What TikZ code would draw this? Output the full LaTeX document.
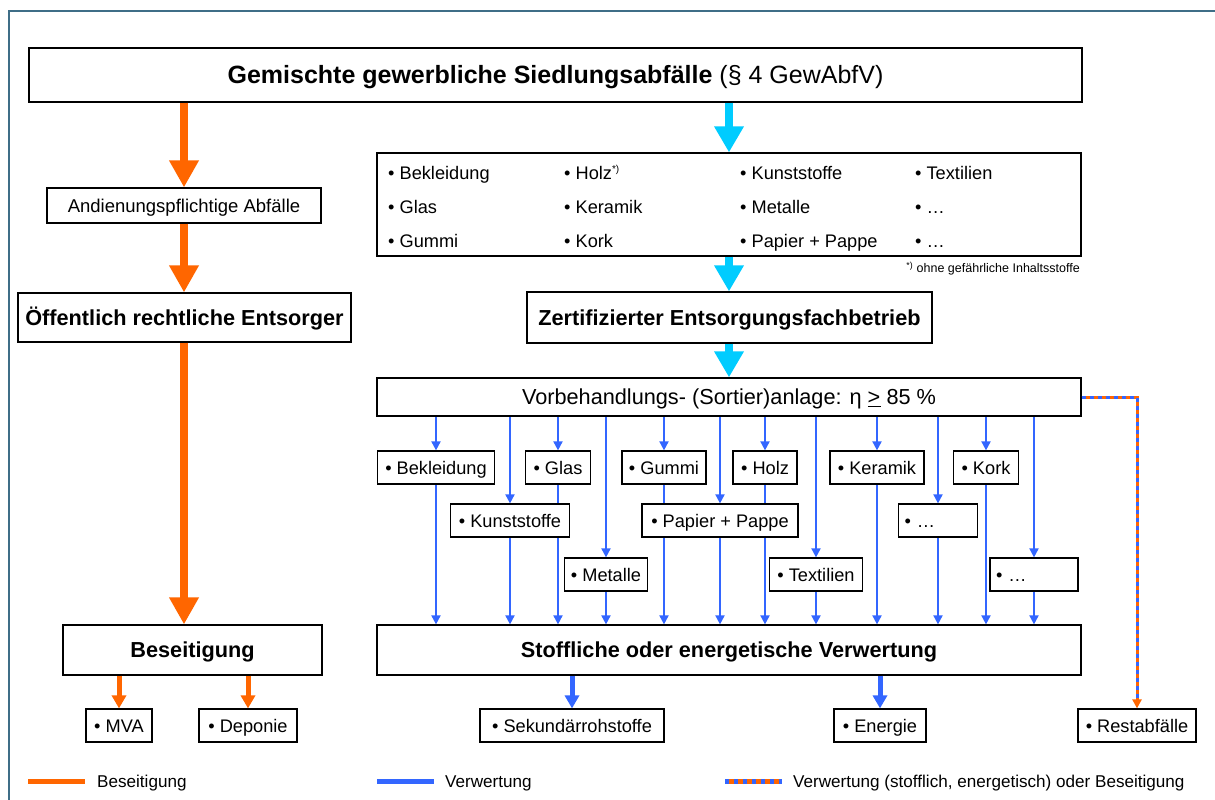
\documentclass[tikz,border=0pt]{standalone}
\usepackage{fontspec}
\setmainfont{Liberation Sans}
\usetikzlibrary{arrows.meta}
\definecolor{orng}{HTML}{FF6600}
\definecolor{cyn}{HTML}{00CCFF}
\definecolor{blu}{HTML}{3366FF}
\definecolor{framec}{HTML}{3F6E87}

% layer for the sorting connectors, so the boxes hide the parts that run behind them
\pgfdeclarelayer{paper}
\pgfdeclarelayer{lines}
\pgfsetlayers{paper,lines,main}

% font size #1 with the text box as tall as the capitals, so the capitals sit centred
\tikzset{
  fsz/.style={font=\fontsize{#1}{#1}\selectfont, text height=0.716*#1 pt, text depth=0pt},
  bfsz/.style={font=\fontsize{#1}{#1}\selectfont\bfseries, text height=0.716*#1 pt, text depth=0pt},
  box/.style={draw=black, line width=1.2pt, fill=white, inner sep=0pt, anchor=center},
  headbox/.style={box, bfsz=21.7},
  item/.style={box, minimum height=33pt, fsz=18.2},
  leftitem/.style={item, align=left, text width=#1, inner xsep=6pt},
  listtext/.style={anchor=west, inner sep=0pt, fsz=18.2},
  bigorange/.style={draw=orng, line width=8pt, -{Triangle[width=28pt,length=27pt]}},
  bigcyan/.style={draw=cyn, line width=8pt, -{Triangle[width=28pt,length=26pt]}},
  smallorange/.style={draw=orng, line width=5pt, -{Triangle[width=14pt,length=13pt]}},
  smallblue/.style={draw=blu, line width=5pt, -{Triangle[width=14pt,length=13pt]}},
  thinblue/.style={draw=blu, line width=1.8pt, -{Triangle[width=9pt,length=9pt]}},
  legendtext/.style={anchor=west, inner sep=0pt, fsz=17.1},
}

\begin{document}
\begin{tikzpicture}[x=1pt, y=-1pt]
\useasboundingbox (0,0) rectangle (1215,800);
\begin{pgfonlayer}{paper}
  \fill[white] (0,0) rectangle (1215,800);
\end{pgfonlayer}
\clip (0,0) rectangle (1215,800);
% outer frame, running past the right and lower edges
\draw[framec, line width=2pt] (9,11) rectangle (1240,830);

% ---- top and left column ----
\node[box, minimum width=1053pt, minimum height=54pt, fsz=25]
  (title) at (555.5,75) {\textbf{Gemischte gewerbliche Siedlungsabfälle} (§ 4 GewAbfV)};
\node[box, minimum width=274pt, minimum height=35pt, fsz=18.5]
  (anda) at (184,205.5) {Andienungspflichtige Abfälle};
\node[headbox, minimum width=333pt, minimum height=49pt] (oere) at (184.5,317.5)
  {Öffentlich rechtliche Entsorger};
\node[headbox, minimum width=259pt, minimum height=50pt] (beseit) at (192.5,650) {Beseitigung};
\node[item, minimum width=66pt] (mva) at (119,725.5) {• MVA};
\node[item, minimum width=98pt] (depo) at (248,725.5) {• Deponie};

% ---- list of fractions ----
\node[box, minimum width=704pt, minimum height=103pt] (list) at (729,204.5) {};
\node[listtext] (l11) at (388,172.5) {• Bekleidung};
\node[listtext] (l12) at (564,172.5) {• Holz\textsuperscript{\fontsize{10}{10}\selectfont*)}};
\node[listtext] (l13) at (740,172.5) {• Kunststoffe};
\node[listtext] (l14) at (915,172.5) {• Textilien};
\node[listtext] (l21) at (388,206.5) {• Glas};
\node[listtext] (l22) at (564,206.5) {• Keramik};
\node[listtext] (l23) at (740,206.5) {• Metalle};
\node[listtext] (l24) at (915,206.5) {• …};
\node[listtext] (l31) at (388,240.5) {• Gummi};
\node[listtext] (l32) at (564,240.5) {• Kork};
\node[listtext] (l33) at (740,240.5) {• Papier + Pappe};
\node[listtext] (l34) at (915,240.5) {• …};
\node[anchor=east, inner sep=0pt, fsz=12.5] (fn) at (1080,268)
  {\textsuperscript{*)} ohne gefährliche Inhaltsstoffe};

\node[headbox, minimum width=405pt, minimum height=51pt] (zert) at (729.5,317.5)
  {Zertifizierter Entsorgungsfachbetrieb};
\node[box, minimum width=704pt, minimum height=38pt, fsz=21.7]
  (vorb) at (729,397) {Vorbehandlungs- (Sortier)anlage: η \underline{>} 85 \%};

% ---- sorted fractions ----
\node[item, minimum width=117pt] (bekl) at (436,467.5) {• Bekleidung};
\node[item, minimum width=65pt]  (glas) at (558,467.5) {• Glas};
\node[item, minimum width=84pt]  (gumm) at (664,467.5) {• Gummi};
\node[item, minimum width=64pt]  (holz) at (765,467.5) {• Holz};
\node[item, minimum width=94pt]  (kera) at (877,467.5) {• Keramik};
\node[item, minimum width=65pt]  (kork) at (986,467.5) {• Kork};
\node[item, minimum width=119pt] (kuns) at (510,520.5) {• Kunststoffe};
\node[item, minimum width=156pt] (papi) at (720,520.5) {• Papier + Pappe};
\node[leftitem=67pt, minimum width=79pt] (dotA) at (938,520.5) {• …};
\node[item, minimum width=83pt]  (meta) at (606,574.5) {• Metalle};
\node[item, minimum width=93pt]  (text) at (816,574.5) {• Textilien};
\node[leftitem=76pt, minimum width=88pt] (dotB) at (1034,574.5) {• …};

\node[headbox, minimum width=704pt, minimum height=50pt] (stoff) at (729,650)
  {Stoffliche oder energetische Verwertung};
\node[item, minimum width=184pt] (sek)  at (572,725.5) {• Sekundärrohstoffe};
\node[item, minimum width=92pt]  (ener) at (880,725.5) {• Energie};
\node[item, minimum width=118pt] (rest) at (1137,725.5) {• Restabfälle};

% ---- connectors ----
\begin{pgfonlayer}{lines}
  \foreach \n in {bekl,glas,gumm,holz,kera,kork,kuns,papi,dotA,meta,text,dotB}{
    \draw[thinblue] (vorb.south -| \n.north) -- (\n.north);
    \draw[thinblue] (\n.south) -- (stoff.north -| \n.south);
  }
\end{pgfonlayer}

\draw[bigorange] (title.south -| anda.north) -- (anda.north);
\draw[bigorange] (anda.south) -- (oere.north -| anda.south);
\draw[bigorange] (oere.south -| anda.south) -- (beseit.north -| anda.south);
\draw[smallorange] (beseit.south -| mva.north) -- (mva.north);
\draw[smallorange] (beseit.south -| depo.north) -- (depo.north);

\draw[bigcyan] (title.south -| list.north) -- (list.north);
\draw[bigcyan] (list.south) -- (zert.north -| list.south);
\draw[bigcyan] (zert.south -| list.south) -- (vorb.north);

\draw[smallblue] (stoff.south -| sek.north) -- (sek.north);
\draw[smallblue] (stoff.south -| ener.north) -- (ener.north);

\coordinate (bend) at (vorb.east -| rest.north);
\draw[orng, line width=3pt, -{Triangle[width=9pt,length=9pt]}] (vorb.east) -- (bend) -- (rest.north);
\draw[blu, line width=3pt, dash pattern=on 4pt off 4pt, shorten >=9pt] (vorb.east) -- (bend) -- (rest.north);

% ---- legend ----
\coordinate (lgA1) at (28,781);  \coordinate (lgA2) at (85,781);
\coordinate (lgB1) at (377,781); \coordinate (lgB2) at (434,781);
\coordinate (lgC1) at (725,781); \coordinate (lgC2) at (782,781);
\draw[orng, line width=5pt] (lgA1) -- (lgA2);
\draw[blu, line width=5pt] (lgB1) -- (lgB2);
\draw[orng, line width=5pt] (lgC1) -- (lgC2);
\draw[blu, line width=5pt, dash pattern=on 4pt off 5pt] (lgC1) -- (lgC2);
\node[legendtext] (lgA) at (97,781) {Beseitigung};
\node[legendtext] (lgB) at (445,781) {Verwertung};
\node[legendtext] (lgC) at (793,781) {Verwertung (stofflich, energetisch) oder Beseitigung};
\end{tikzpicture}
\end{document}
